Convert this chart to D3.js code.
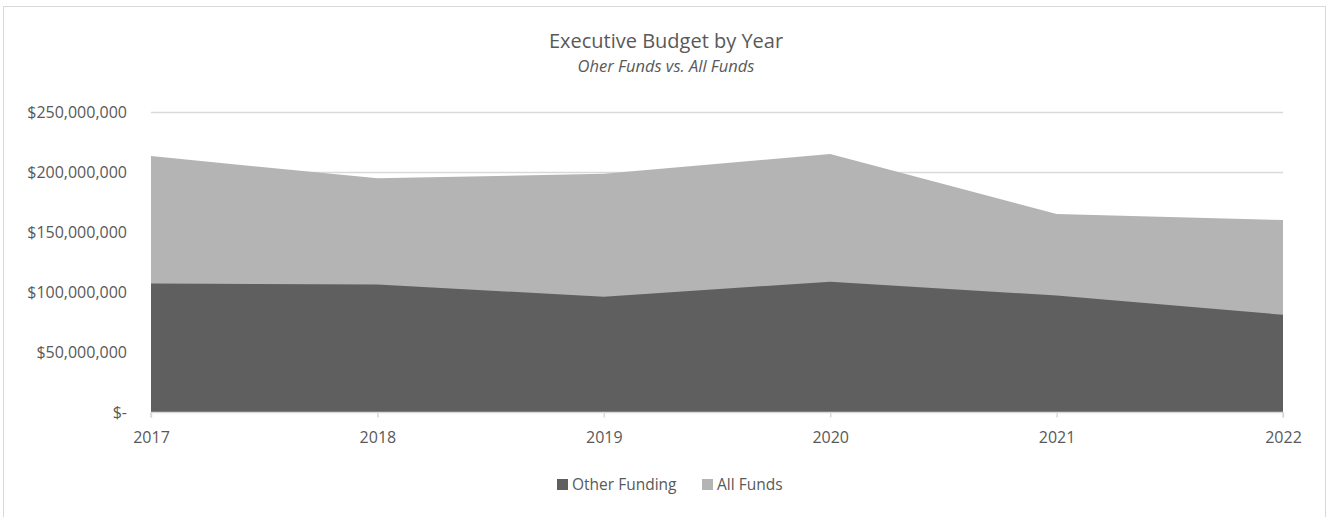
<!DOCTYPE html>
<html><head><meta charset="utf-8">
<script src="https://cdn.jsdelivr.net/npm/d3@7"></script>
<style>
html,body{margin:0;padding:0;background:#fff;}
svg text{font-family:"Open Sans",sans-serif;fill:#595959;}
</style></head>
<body>
<svg id="chart" width="1331" height="517"></svg>
<script>
const years = ["2017","2018","2019","2020","2021","2022"];
const allFunds = [213300000, 194700000, 198500000, 215000000, 165000000, 160000000];
const otherFunding = [107000000, 106300000, 96000000, 108600000, 97000000, 81000000];
const yTicks = [0, 50000000, 100000000, 150000000, 200000000, 250000000];
const seriesNames = ["Other Funding", "All Funds"];
const colors = {"Other Funding":"#5f5f5f","All Funds":"#b4b4b4"};

const svg = d3.select("#chart");
const W = 1331, H = 517;
const m = {left:151, right:1283, top:112, bottom:412};

svg.append("rect").attr("x",3.5).attr("y",6.5).attr("width",1322).attr("height",530)
  .attr("fill","#fff").attr("stroke","#d9d9d9").attr("stroke-width",1);

const x = d3.scalePoint().domain(years).range([m.left, m.right]);
const y = d3.scaleLinear().domain([0,250000000]).range([m.bottom, m.top]);

// gridlines
svg.append("g").selectAll("line").data(yTicks.filter(d=>d>0)).join("line")
  .attr("x1",m.left).attr("x2",m.right)
  .attr("y1",d=>Math.round(y(d))+0.5).attr("y2",d=>Math.round(y(d))+0.5)
  .attr("stroke","#d9d9d9").attr("stroke-width",1.5);

const area = d3.area().x(d=>x(d.year)).y0(y(0)).y1(d=>y(d.v));
const allData = years.map((yr,i)=>({year:yr, v:allFunds[i]}));
const otherData = years.map((yr,i)=>({year:yr, v:otherFunding[i]}));
svg.append("path").datum(allData).attr("d",area).attr("fill",colors["All Funds"]);
svg.append("path").datum(otherData).attr("d",area).attr("fill",colors["Other Funding"]);

// x axis
const xAxis = d3.axisBottom(x).tickSize(5).tickPadding(14);
const gx = svg.append("g").attr("transform",`translate(0,${m.bottom+0.5})`).call(xAxis);
gx.select(".domain").attr("stroke","#d9d9d9").attr("stroke-width",1.5).attr("d",`M${m.left},5V0H${m.right}V5`);
gx.selectAll(".tick line").attr("stroke","#d9d9d9").attr("stroke-width",1.5);
gx.selectAll(".tick text").attr("font-size",16).style("fill","#595959").attr("font-family","Open Sans");

// y axis labels
const fmt = d => d===0 ? "$-" : "$" + d3.format(",")(d);
svg.append("g").selectAll("text").data(yTicks).join("text")
  .attr("x",127).attr("y",d=>y(d)).attr("dy","0.35em")
  .attr("text-anchor","end").attr("font-size",16).text(fmt);

// title
svg.append("text").attr("x",666).attr("y",48).attr("text-anchor","middle")
  .attr("font-size",20).text("Executive Budget by Year");
svg.append("text").attr("x",666).attr("y",72).attr("text-anchor","middle")
  .attr("font-size",16.5).attr("font-style","italic").text("Oher Funds vs. All Funds");

// legend
const legendItems = [{name:"Other Funding", x:557},{name:"All Funds", x:702}];
const lg = svg.append("g");
legendItems.forEach(it=>{
  lg.append("rect").attr("x",it.x).attr("y",479).attr("width",11).attr("height",11).attr("fill",colors[it.name]);
  lg.append("text").attr("x",it.x+15).attr("y",485).attr("dy","0.35em").attr("font-size",15.5).text(it.name);
});
</script>
</body></html>
